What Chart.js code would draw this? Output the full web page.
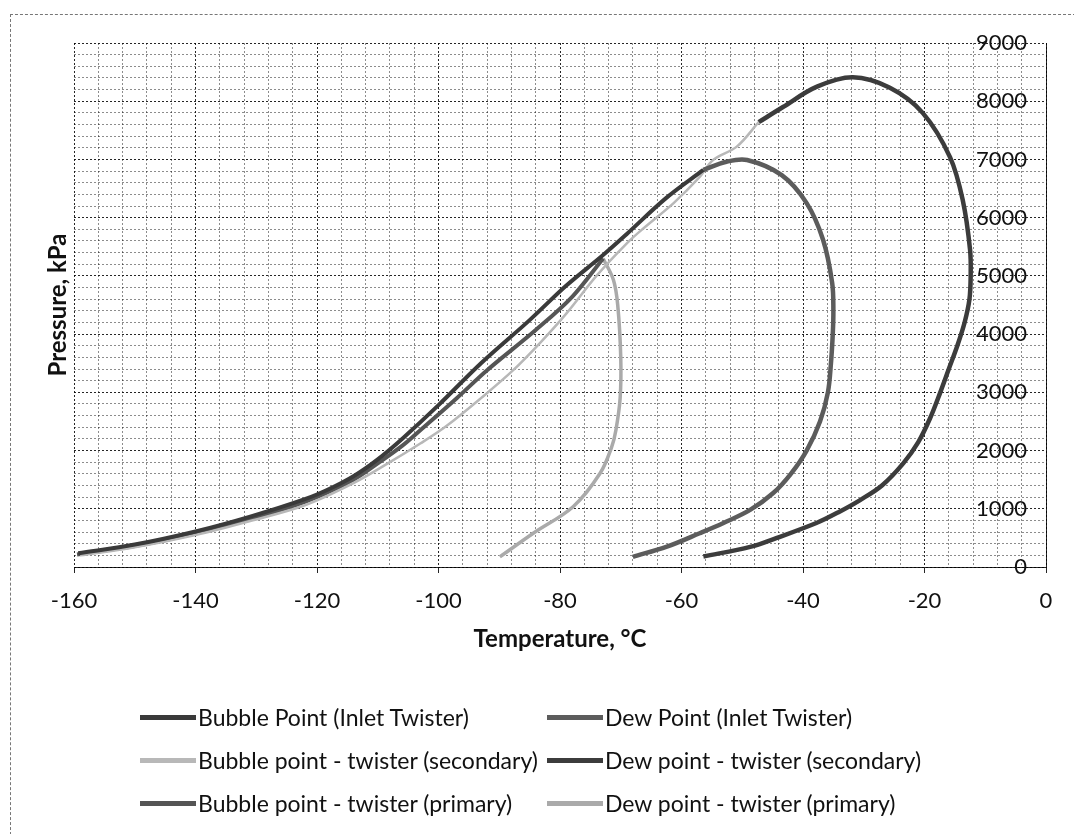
<!DOCTYPE html>
<html>
<head>
<meta charset="utf-8">
<script src="https://cdn.jsdelivr.net/npm/chart.js@4.4.1/dist/chart.umd.min.js"></script>
<style>
    body { margin: 0; background: #fff; overflow: hidden; }
    #wrap { position: relative; width: 1074px; height: 834px; }
    #frame { position: absolute; left: 10px; top: 14px; width: 1070px; height: 830px; border-top: 1px dashed #777; border-left: 1px dashed #777; }
    #legend { position: absolute; left: 0; top: 0; width: 1074px; height: 834px; pointer-events: none; font-family: Lato, "Open Sans", sans-serif; font-size: 23px; color: #111; }
    .item { position: absolute; display: flex; align-items: center; height: 28px; white-space: nowrap; }
    .sym { display: inline-block; width: 56px; height: 5px; margin-right: 2px; }
</style>
</head>
<body>
<div id="wrap">
    <div id="frame"></div>
    <canvas id="envelopeChart" width="1074" height="834"></canvas>
    <div id="legend"></div>
</div>
<script>
// phase envelope data: [temperature °C, pressure kPa]
const bubbleInlet = [[-159.3,235],[-150,385],[-140,610],[-131,865],[-122,1165],[-118,1340],[-114,1560],[-110,1850],[-106,2200],[-100,2780],[-93,3500],[-85,4240],[-79,4830],[-73,5350],[-69,5720],[-62.5,6340],[-56.4,6820]];
const dewInlet = [[-56.4,6820],[-52.6,6960],[-49.2,6990],[-43.5,6730],[-39.4,6250],[-36.7,5620],[-35.2,4880],[-35.0,4400],[-35.1,4000],[-35.4,3500],[-35.9,3000],[-37.2,2500],[-39.4,2000],[-42,1600],[-44.9,1270],[-48.7,980],[-53,760],[-57,580],[-62.4,350],[-68,175]];
const bubbleSecondary = [[-159,200],[-150,340],[-140,550],[-131,790],[-122,1060],[-114,1440],[-108,1800],[-103,2120],[-98.7,2420],[-93,2900],[-87.7,3380],[-83,3880],[-78.9,4360],[-74,5000],[-69,5560],[-66,5840],[-61.3,6250],[-57,6700],[-54.8,6990],[-50.9,7220],[-47.3,7640]];
const dewSecondary = [[-47.3,7640],[-43.3,7900],[-37.7,8250],[-31.8,8410],[-25.7,8230],[-20.3,7800],[-15.8,7040],[-13.7,6300],[-12.5,5450],[-12.4,5000],[-12.6,4600],[-13.4,4200],[-14.6,3800],[-16.0,3400],[-17.4,3000],[-19.1,2550],[-21.0,2150],[-23.5,1780],[-27.0,1400],[-30.6,1150],[-34,950],[-37.7,760],[-44.3,500],[-48.7,345],[-56.4,180]];
const bubblePrimary = [[-159.5,215],[-150,360],[-140,580],[-131,830],[-122,1120],[-114,1500],[-110,1780],[-106,2080],[-103,2350],[-97,2900],[-92,3380],[-84,4070],[-78,4640],[-72.9,5300]];
const dewPrimary = [[-72.9,5300],[-71.2,4930],[-70.5,4500],[-70,3600],[-70.1,2900],[-70.8,2350],[-71.5,2060],[-73.4,1610],[-77.8,1040],[-84.4,580],[-89.9,175]];

const seriesLabels = ["Bubble Point (Inlet Twister)", "Dew Point (Inlet Twister)", "Bubble point - twister (secondary)", "Dew point - twister (secondary)", "Bubble point - twister (primary)", "Dew point - twister (primary)"];
const seriesData = [bubbleInlet, dewInlet, bubbleSecondary, dewSecondary, bubblePrimary, dewPrimary];
const seriesColors = ['#3a3a3a', '#5c5c5c', '#b8b8b8', '#3c3c3c', '#555555', '#aaaaaa'];
const seriesWidths = [4, 4.5, 2.5, 4.5, 4, 3.5];

const xMin = -160, xMax = 0, xMajor = 20, xMinor = 4;
const yMin = 0, yMax = 9000, yMajor = 1000, yMinor = 200;

const FONT = 'Lato, "Open Sans", sans-serif';
const gridMajor = 'rgba(0,0,0,0.85)';
const gridMinor = 'rgba(0,0,0,0.45)';

const datasets = seriesData.map((pts, i) => ({
    label: seriesLabels[i],
    data: pts.map(p => ({ x: p[0], y: p[1] })),
    showLine: true,
    borderColor: seriesColors[i],
    backgroundColor: seriesColors[i],
    borderWidth: seriesWidths[i],
    pointRadius: 0,
    tension: 0.35,
    yAxisID: 'y'
}));

new Chart(document.getElementById('envelopeChart'), {
    type: 'scatter',
    data: { datasets: datasets },
    options: {
        responsive: false,
        animation: false,
        layout: { padding: { top: 43, bottom: 174, left: 0, right: 0 } },
        plugins: { legend: { display: false }, tooltip: { enabled: false } },
        scales: {
            x: {
                type: 'linear', min: xMin, max: xMax,
                afterFit: s => { s.height = 93; },
                ticks: {
                    stepSize: xMinor, autoSkip: false, maxRotation: 0, padding: 15,
                    color: '#111', font: { family: FONT, size: 22 },
                    callback: v => (Math.round(v) % xMajor === 0 ? Math.round(v) : '')
                },
                grid: {
                    color: c => (c.tick && Math.round(c.tick.value) % xMajor === 0 ? gridMajor : gridMinor),
                    tickColor: c => (c.tick && Math.round(c.tick.value) % xMajor === 0 ? gridMajor : 'rgba(0,0,0,0)'),
                    tickLength: 6, lineWidth: 1
                },
                border: { color: gridMajor, dash: [2, 2] },
                title: { display: true, text: 'Temperature, °C', color: '#111', font: { family: FONT, size: 24, weight: 'bold' }, padding: { top: 0, bottom: 6 } }
            },
            y: {
                type: 'linear', position: 'right', min: yMin, max: yMax,
                afterFit: s => { s.width = 28; },
                ticks: {
                    stepSize: yMinor, autoSkip: false, mirror: true, padding: -19,
                    color: '#111', font: { family: FONT, size: 22 },
                    callback: v => (Math.round(v) % yMajor === 0 ? Math.round(v) : '')
                },
                grid: {
                    color: c => (c.tick && Math.round(c.tick.value) % yMajor === 0 ? gridMajor : gridMinor),
                    drawTicks: false, lineWidth: 1
                },
                border: { color: gridMajor, dash: [2, 2] }
            },
            yTitle: {
                type: 'linear', position: 'left', min: yMin, max: yMax,
                afterFit: s => { s.width = 74; },
                ticks: { display: false },
                grid: { display: false },
                border: { display: false },
                title: { display: true, text: 'Pressure, kPa', color: '#111', font: { family: FONT, size: 24, weight: 'bold' }, padding: { top: 44, bottom: 0 } }
            }
        }
    }
});

// legend in two columns, three rows, as in the scan
const legendEl = document.getElementById('legend');
const colX = [140, 547];
const rowY = [717, 760, 803];
seriesLabels.forEach((label, i) => {
    const item = document.createElement('div');
    item.className = 'item';
    item.style.left = colX[i % 2] + 'px';
    item.style.top = (rowY[Math.floor(i / 2)] - 14) + 'px';
    item.innerHTML = `<span class="sym" style="background:${seriesColors[i]}"></span><span>${label}</span>`;
    legendEl.appendChild(item);
});
</script>
</body>
</html>
